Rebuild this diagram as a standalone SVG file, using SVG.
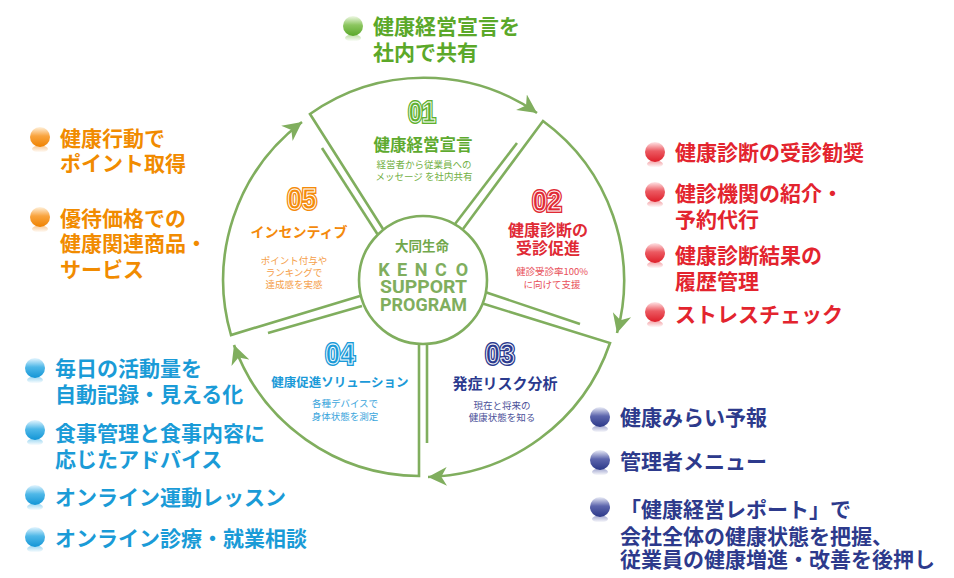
<svg xmlns="http://www.w3.org/2000/svg" width="954" height="578" viewBox="0 0 954 578">
<style>
.ring{fill:none;stroke:#80ae5e;stroke-width:2.6;stroke-linejoin:miter}
.jp{font-family:"Noto Sans CJK JP","Noto Sans CJK SC",sans-serif}
.big{font-size:21px;font-weight:700}
.ttl{font-weight:700;text-anchor:middle}
.sm{font-size:9.5px;text-anchor:middle}
.num{font-family:"Liberation Sans",Arial,sans-serif;font-weight:700;font-size:30px;text-anchor:middle}
.nw{fill:none;stroke:#fff;stroke-width:1}
.en{font-family:Roboto,"Liberation Sans",sans-serif;font-weight:700;font-size:18px;fill:#80ae5e}
</style>
<defs>
<marker id="ah" markerUnits="userSpaceOnUse" markerWidth="20" markerHeight="20" refX="17" refY="8.5" orient="auto" viewBox="0 0 18 17">
<path d="M0,0 L17,8.5 L0,17 L5,8.5 Z" fill="#80ae5e"/>
</marker>
<linearGradient id="gO" x1="0" y1="0" x2="0" y2="1"><stop offset="0" stop-color="#fff1dc"/><stop offset="0.45" stop-color="#f9a43e"/><stop offset="1" stop-color="#ef8200"/></linearGradient>
<linearGradient id="gB" x1="0" y1="0" x2="0" y2="1"><stop offset="0" stop-color="#e6f6ff"/><stop offset="0.45" stop-color="#4fb8e8"/><stop offset="1" stop-color="#1295d6"/></linearGradient>
<linearGradient id="gR" x1="0" y1="0" x2="0" y2="1"><stop offset="0" stop-color="#ffe6e8"/><stop offset="0.45" stop-color="#ec5a62"/><stop offset="1" stop-color="#de1f2a"/></linearGradient>
<linearGradient id="gN" x1="0" y1="0" x2="0" y2="1"><stop offset="0" stop-color="#eceef8"/><stop offset="0.45" stop-color="#5d66ad"/><stop offset="1" stop-color="#2b3888"/></linearGradient>
<linearGradient id="gG" x1="0" y1="0" x2="0" y2="1"><stop offset="0" stop-color="#f0f9e6"/><stop offset="0.45" stop-color="#8cc660"/><stop offset="1" stop-color="#5aa82a"/></linearGradient>
<linearGradient id="rO" x1="0" y1="0" x2="0" y2="1"><stop offset="0" stop-color="#f5a040" stop-opacity="0.6"/><stop offset="1" stop-color="#f5a040" stop-opacity="0"/></linearGradient>
<linearGradient id="rB" x1="0" y1="0" x2="0" y2="1"><stop offset="0" stop-color="#4fb8e8" stop-opacity="0.6"/><stop offset="1" stop-color="#4fb8e8" stop-opacity="0"/></linearGradient>
<linearGradient id="rR" x1="0" y1="0" x2="0" y2="1"><stop offset="0" stop-color="#ec5a62" stop-opacity="0.6"/><stop offset="1" stop-color="#ec5a62" stop-opacity="0"/></linearGradient>
<linearGradient id="rN" x1="0" y1="0" x2="0" y2="1"><stop offset="0" stop-color="#5d66ad" stop-opacity="0.6"/><stop offset="1" stop-color="#5d66ad" stop-opacity="0"/></linearGradient>
<linearGradient id="rG" x1="0" y1="0" x2="0" y2="1"><stop offset="0" stop-color="#8cc660" stop-opacity="0.6"/><stop offset="1" stop-color="#8cc660" stop-opacity="0"/></linearGradient>
</defs>
<rect width="954" height="578" fill="#fff"/>

<g id="connectors">
<path class="ring" d="M383,229 L310,114 A198,198 0 0 1 537,113" marker-end="url(#ah)"/>
<path class="ring" d="M463,229 L543,121 A198,198 0 0 1 617,333" marker-end="url(#ah)"/>
<path class="ring" d="M481,303 L610,343 A198,198 0 0 1 428,477" marker-end="url(#ah)"/>
<path class="ring" d="M419,340 L419,476 A198,198 0 0 1 234,345" marker-end="url(#ah)"/>
<path class="ring" d="M360,296 L231,335 A198,198 0 0 1 302,122" marker-end="url(#ah)"/>
<path class="ring" d="M322,148 L378,235"/>
<path class="ring" d="M517,143 L455,224"/>
<path class="ring" d="M580,324 L485,292"/>
<path class="ring" d="M427,443 L427,340"/>
<path class="ring" d="M268,333 L362,306"/>
</g>

<g id="center">
<circle cx="423" cy="280" r="64" fill="#fff" stroke="#80ae5e" stroke-width="2.6"/>
<text class="jp" x="422" y="251" font-size="13.5" font-weight="700" fill="#72a84c" text-anchor="middle">大同生命</text>
<text class="en" x="384 402 421 441 462" y="276" text-anchor="middle">KENCO</text>
<text class="en" x="380" y="293" textLength="87" lengthAdjust="spacingAndGlyphs">SUPPORT</text>
<text class="en" x="380" y="311" textLength="87" lengthAdjust="spacingAndGlyphs">PROGRAM</text>
</g>

<g id="seg01">
<text class="num" x="422" y="122" textLength="27" lengthAdjust="spacingAndGlyphs" fill="#5eb030" stroke="#5eb030" stroke-width="4">01</text>
<text class="num nw" x="422" y="122" textLength="27" lengthAdjust="spacingAndGlyphs">01</text>
<text class="jp ttl" x="423" y="151" font-size="16.5" fill="#5eaa2f">健康経営宣言</text>
<text class="jp sm" x="424" y="167.5" fill="#72b044">経営者から従業員への</text>
<text class="jp sm" x="424" y="180" fill="#72b044">メッセージ を社内共有</text>
</g>

<g id="seg02">
<text class="num" x="547" y="211" textLength="29" lengthAdjust="spacingAndGlyphs" fill="#e02a35" stroke="#e02a35" stroke-width="4">02</text>
<text class="num nw" x="547" y="211" textLength="29" lengthAdjust="spacingAndGlyphs">02</text>
<text class="jp ttl" x="548" y="236" font-size="16" fill="#e02a35">健康診断の</text>
<text class="jp ttl" x="548" y="254" font-size="16" fill="#e02a35">受診促進</text>
<text class="jp sm" x="552" y="275" fill="#e8505a">健診受診率100%</text>
<text class="jp sm" x="552" y="288" fill="#e8505a">に向けて支援</text>
</g>

<g id="seg03">
<text class="num" x="500" y="364" textLength="29" lengthAdjust="spacingAndGlyphs" fill="#2b3a8e" stroke="#2b3a8e" stroke-width="4">03</text>
<text class="num nw" x="500" y="364" textLength="29" lengthAdjust="spacingAndGlyphs">03</text>
<text class="jp ttl" x="505" y="389" font-size="15" fill="#2b3a8e">発症リスク分析</text>
<text class="jp sm" x="502" y="409" fill="#4b5199">現在と将来の</text>
<text class="jp sm" x="502" y="421" fill="#4b5199">健康状態を知る</text>
</g>

<g id="seg04">
<text class="num" x="340" y="364" textLength="29" lengthAdjust="spacingAndGlyphs" fill="#1b9ad8" stroke="#1b9ad8" stroke-width="4">04</text>
<text class="num nw" x="340" y="364" textLength="29" lengthAdjust="spacingAndGlyphs">04</text>
<text class="jp ttl" x="340" y="387" font-size="12.5" fill="#1b9ad8">健康促進ソリューション</text>
<text class="jp sm" x="345" y="407" fill="#3aa5dc">各種デバイスで</text>
<text class="jp sm" x="345" y="420" fill="#3aa5dc">身体状態を測定</text>
</g>

<g id="seg05">
<text class="num" x="302" y="209" textLength="29" lengthAdjust="spacingAndGlyphs" fill="#f48a0c" stroke="#f48a0c" stroke-width="4">05</text>
<text class="num nw" x="302" y="209" textLength="29" lengthAdjust="spacingAndGlyphs">05</text>
<text class="jp ttl" x="299" y="237" font-size="14" fill="#f48a0c">インセンティブ</text>
<text class="jp sm" x="294" y="264" fill="#f5a04a">ポイント付与や</text>
<text class="jp sm" x="294" y="276" fill="#f5a04a">ランキングで</text>
<text class="jp sm" x="294" y="288" fill="#f5a04a">達成感を実感</text>
</g>

<g id="list-top">
<ellipse cx="353" cy="38" rx="8" ry="3.5" fill="url(#rG)"/><circle cx="353" cy="26" r="10" fill="url(#gG)"/>
<text class="jp big" x="373" y="34" fill="#5ba829">健康経営宣言を</text>
<text class="jp big" x="373" y="60" fill="#5ba829">社内で共有</text>
</g>

<g id="list-orange">
<ellipse cx="40" cy="149" rx="8" ry="3.5" fill="url(#rO)"/><circle cx="40" cy="137" r="10" fill="url(#gO)"/>
<text class="jp big" x="60" y="146" fill="#f18b00">健康行動で</text>
<text class="jp big" x="60" y="171" fill="#f18b00">ポイント取得</text>
<ellipse cx="40" cy="229" rx="8" ry="3.5" fill="url(#rO)"/><circle cx="40" cy="217" r="10" fill="url(#gO)"/>
<text class="jp big" x="60" y="226" fill="#f18b00">優待価格での</text>
<text class="jp big" x="60" y="251" fill="#f18b00">健康関連商品・</text>
<text class="jp big" x="60" y="277" fill="#f18b00">サービス</text>
</g>

<g id="list-blue">
<ellipse cx="35" cy="380" rx="8" ry="3.5" fill="url(#rB)"/><circle cx="35" cy="368" r="10" fill="url(#gB)"/>
<text class="jp big" x="55" y="376" fill="#1a9bd7">毎日の活動量を</text>
<text class="jp big" x="55" y="402" fill="#1a9bd7">自動記録・見える化</text>
<ellipse cx="35" cy="442" rx="8" ry="3.5" fill="url(#rB)"/><circle cx="35" cy="430" r="10" fill="url(#gB)"/>
<text class="jp big" x="55" y="441" fill="#1a9bd7">食事管理と食事内容に</text>
<text class="jp big" x="55" y="467" fill="#1a9bd7">応じたアドバイス</text>
<ellipse cx="35" cy="507" rx="8" ry="3.5" fill="url(#rB)"/><circle cx="35" cy="495" r="10" fill="url(#gB)"/>
<text class="jp big" x="55" y="505" fill="#1a9bd7">オンライン運動レッスン</text>
<ellipse cx="35" cy="549" rx="8" ry="3.5" fill="url(#rB)"/><circle cx="35" cy="537" r="10" fill="url(#gB)"/>
<text class="jp big" x="55" y="546" fill="#1a9bd7">オンライン診療・就業相談</text>
</g>

<g id="list-red">
<ellipse cx="655" cy="164" rx="8" ry="3.5" fill="url(#rR)"/><circle cx="655" cy="152" r="10" fill="url(#gR)"/>
<text class="jp big" x="675" y="160" fill="#e3242e">健康診断の受診勧奨</text>
<ellipse cx="655" cy="204" rx="8" ry="3.5" fill="url(#rR)"/><circle cx="655" cy="192" r="10" fill="url(#gR)"/>
<text class="jp big" x="675" y="201" fill="#e3242e">健診機関の紹介・</text>
<text class="jp big" x="675" y="227" fill="#e3242e">予約代行</text>
<ellipse cx="655" cy="265" rx="8" ry="3.5" fill="url(#rR)"/><circle cx="655" cy="253" r="10" fill="url(#gR)"/>
<text class="jp big" x="675" y="263" fill="#e3242e">健康診断結果の</text>
<text class="jp big" x="675" y="289" fill="#e3242e">履歴管理</text>
<ellipse cx="655" cy="324" rx="8" ry="3.5" fill="url(#rR)"/><circle cx="655" cy="312" r="10" fill="url(#gR)"/>
<text class="jp big" x="675" y="322" fill="#e3242e">ストレスチェック</text>
</g>

<g id="list-navy">
<ellipse cx="600" cy="429" rx="8" ry="3.5" fill="url(#rN)"/><circle cx="600" cy="417" r="10" fill="url(#gN)"/>
<text class="jp big" x="620" y="425" fill="#2d3a8c">健康みらい予報</text>
<ellipse cx="600" cy="472" rx="8" ry="3.5" fill="url(#rN)"/><circle cx="600" cy="460" r="10" fill="url(#gN)"/>
<text class="jp big" x="620" y="469" fill="#2d3a8c">管理者メニュー</text>
<ellipse cx="600" cy="519" rx="8" ry="3.5" fill="url(#rN)"/><circle cx="600" cy="507" r="10" fill="url(#gN)"/>
<text class="jp big" x="620" y="517" fill="#2d3a8c">「健康経営レポート」で</text>
<text class="jp big" x="620" y="544" fill="#2d3a8c">会社全体の健康状態を把握、</text>
<text class="jp big" x="620" y="567" fill="#2d3a8c">従業員の健康増進・改善を後押し</text>
</g>
</svg>
